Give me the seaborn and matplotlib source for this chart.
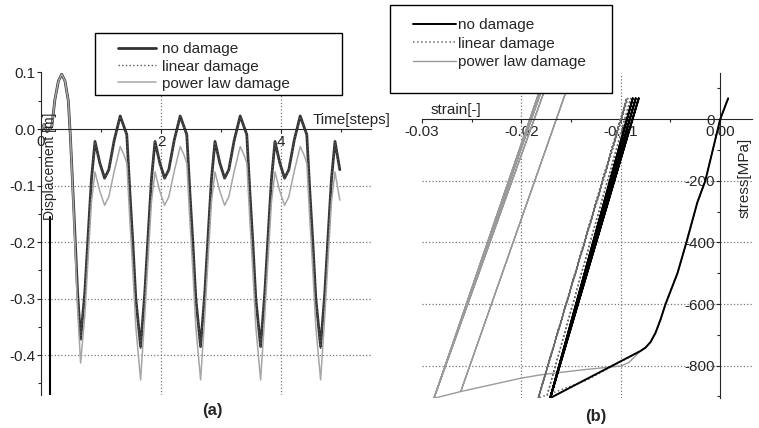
import matplotlib
matplotlib.use("Agg")
import seaborn as sns
from matplotlib import pyplot as plt
from matplotlib.patches import Rectangle
from matplotlib.ticker import MultipleLocator

series_labels = ["no damage", "linear damage", "power law damage"]

# (a) displacement over time, one row per cycle
time_steps = [
    0.00, 0.05, 0.10, 0.18, 0.23, 0.29, 0.345, 0.40, 0.455, 0.49, 0.55, 0.61,
    0.66, 0.73, 0.79, 0.84, 0.90, 0.98, 1.06, 1.13, 1.22, 1.32, 1.38, 1.43, 1.48, 1.53, 1.58,
    1.66, 1.73, 1.79, 1.84, 1.90, 1.98, 2.06, 2.13, 2.22, 2.32, 2.38, 2.43, 2.48, 2.53, 2.58,
    2.66, 2.73, 2.79, 2.84, 2.90, 2.98, 3.06, 3.13, 3.22, 3.32, 3.38, 3.43, 3.48, 3.53, 3.58,
    3.66, 3.73, 3.79, 3.84, 3.90, 3.98, 4.06, 4.13, 4.22, 4.32, 4.38, 4.43, 4.48, 4.53, 4.58,
    4.66, 4.73, 4.79, 4.84, 4.90, 4.98,
]
disp_no_damage = [
    -0.005, 0.008, -0.005, 0.004, 0.051, 0.085, 0.097, 0.085, 0.050, -0.014, -0.150, -0.290,
    -0.372, -0.29, -0.18, -0.09, -0.022, -0.06, -0.087, -0.072, -0.02, 0.023, 0.005, -0.01, -0.11, -0.20, -0.30,
    -0.385, -0.29, -0.18, -0.09, -0.022, -0.06, -0.087, -0.072, -0.02, 0.023, 0.005, -0.01, -0.11, -0.20, -0.30,
    -0.385, -0.29, -0.18, -0.09, -0.022, -0.06, -0.087, -0.072, -0.02, 0.023, 0.005, -0.01, -0.11, -0.20, -0.30,
    -0.385, -0.29, -0.18, -0.09, -0.022, -0.06, -0.087, -0.072, -0.02, 0.023, 0.005, -0.01, -0.11, -0.20, -0.30,
    -0.385, -0.29, -0.18, -0.09, -0.022, -0.072,
]
disp_linear = [
    -0.005, 0.008, -0.005, 0.004, 0.051, 0.085, 0.097, 0.085, 0.050, -0.014, -0.152, -0.292,
    -0.375, -0.29, -0.18, -0.09, -0.023, -0.061, -0.088, -0.073, -0.021, 0.022, 0.004, -0.011, -0.11, -0.20, -0.30,
    -0.388, -0.29, -0.18, -0.09, -0.023, -0.061, -0.088, -0.073, -0.021, 0.022, 0.004, -0.011, -0.11, -0.20, -0.30,
    -0.388, -0.29, -0.18, -0.09, -0.023, -0.061, -0.088, -0.073, -0.021, 0.022, 0.004, -0.011, -0.11, -0.20, -0.30,
    -0.388, -0.29, -0.18, -0.09, -0.023, -0.061, -0.088, -0.073, -0.021, 0.022, 0.004, -0.011, -0.11, -0.20, -0.30,
    -0.388, -0.29, -0.18, -0.09, -0.023, -0.073,
]
disp_power = [
    -0.005, 0.008, -0.005, 0.004, 0.051, 0.085, 0.097, 0.085, 0.050, -0.014, -0.160, -0.320,
    -0.414, -0.33, -0.22, -0.13, -0.076, -0.11, -0.135, -0.12, -0.075, -0.031, -0.045, -0.06, -0.16, -0.25, -0.35,
    -0.444, -0.33, -0.22, -0.13, -0.076, -0.11, -0.135, -0.12, -0.075, -0.031, -0.045, -0.06, -0.16, -0.25, -0.35,
    -0.444, -0.33, -0.22, -0.13, -0.076, -0.11, -0.135, -0.12, -0.075, -0.031, -0.045, -0.06, -0.16, -0.25, -0.35,
    -0.444, -0.33, -0.22, -0.13, -0.076, -0.11, -0.135, -0.12, -0.075, -0.031, -0.045, -0.06, -0.16, -0.25, -0.35,
    -0.444, -0.33, -0.22, -0.13, -0.076, -0.126,
]
time_ticks = [0, 2, 4]
disp_ticks = [0.1, 0.0, -0.1, -0.2, -0.3, -0.4]

# (b) stress-strain paths
strain_no_damage = [0.0008, 0.0, -0.0015, -0.0023, -0.0034, -0.0043, -0.0055, -0.0060, -0.0065, -0.0070,
                    -0.0075, -0.0080, -0.0171,
                    -0.0082, -0.0171, -0.0085, -0.0171, -0.0088, -0.0171]
stress_no_damage = [68, 0, -200, -270, -400, -500, -600, -650, -693, -723,
                    -741, -752, -905,
                    68, -905, 68, -905, 68, -905]
strain_linear = [0.0008, 0.0, -0.0015, -0.0023, -0.0034, -0.0043, -0.0055, -0.0060, -0.0065, -0.0070,
                 -0.0075, -0.0080, -0.0135, -0.0174,
                 -0.0090, -0.0174, -0.0183, -0.0094, -0.0183, -0.0093, -0.0183, -0.0094, -0.0183]
stress_linear = [68, 0, -200, -270, -400, -500, -600, -650, -693, -723,
                 -741, -752, -848, -895,
                 68, -895, -905, 68, -905, 68, -905, 68, -905]
strain_power = [0.0008, 0.0, -0.0015, -0.0023, -0.0034, -0.0043, -0.0055, -0.0060, -0.0065, -0.0070,
                -0.0075, -0.0080, -0.0092, -0.0100,
                -0.0140, -0.0181, -0.0201, -0.0261, -0.0154, -0.0261, -0.0288,
                -0.0176, -0.0288, -0.0179, -0.0288, -0.0181, -0.0288]
stress_power = [68, 0, -200, -270, -400, -500, -600, -650, -693, -723,
                -741, -752, -790, -801,
                -814, -830, -841, -884, 100, -884, -906,
                100, -906, 100, -906, 100, -906]
strain_ticks = [-0.03, -0.02, -0.01, 0.0]
strain_tick_labels = ["-0.03", "-0.02", "-0.01", "0.00"]
stress_ticks = [0, -200, -400, -600, -800]

sns.set_style("white")
plt.rcParams["font.family"] = ["Liberation Sans", "DejaVu Sans"]
plt.rcParams["axes.unicode_minus"] = False
plt.rcParams["font.size"] = 11

W, H = 759, 428
fig = plt.figure(figsize=(W / 100, H / 100), dpi=100)
ax_a = fig.add_axes([41 / W, 1 - 394.6 / H, 330 / W, 322.1 / H])
ax_b = fig.add_axes([422 / W, 1 - 398 / H, 330 / W, 324.9 / H])

grid_kw = dict(color="#777777", ls=":", lw=0.9, zorder=0)
FS = 11

# ---- panel (a)
a_styles = [("#333333", "-", 2.0), ("#555555", ":", 1.0), ("#a6a6a6", "-", 1.1)]
for ys, lab, (c, ls, lw) in zip([disp_no_damage, disp_linear, disp_power], series_labels, a_styles):
    sns.lineplot(x=time_steps, y=ys, ax=ax_a, sort=False, estimator=None,
                 color=c, linestyle=ls, lw=lw, label=lab, legend=False)

for v in disp_ticks:
    if v < 0:
        ax_a.axhline(v, **grid_kw)
for t in time_ticks:
    if t > 0:
        ax_a.axvline(t, **grid_kw)

ax_a.set_xlim(0, 5.5)
ax_a.set_ylim(-0.47, 0.1)
ax_a.axvline(0.15, ymin=0, ymax=(0.47 - 0.155) / 0.57, color="black", lw=1.5)
ax_a.spines[["top", "right"]].set_visible(False)
ax_a.spines["bottom"].set_position(("data", 0))
ax_a.spines["left"].set_position(("data", 0))
ax_a.set_xticks(time_ticks)
ax_a.xaxis.set_minor_locator(MultipleLocator(1))
ax_a.set_yticks(disp_ticks, [f"{v:.1f}" for v in disp_ticks])
ax_a.yaxis.set_minor_locator(MultipleLocator(0.05))
ax_a.tick_params(which="both", direction="out", length=3, width=0.8, pad=1, labelsize=FS,
                 bottom=True, left=True)
ax_a.tick_params(which="minor", length=2)
ax_a.set_xlabel("")
ax_a.set_ylabel("")
ax_a.text(4.53, 0.004, "Time[steps]", ha="left", va="bottom", fontsize=FS)
ax_a.text(0.15, -0.066, "Displacement [m]", rotation=90, ha="center", va="center", fontsize=10)

# ---- panel (b)
b_styles = [("#000000", "-", 1.4), ("#6a6a6a", ":", 1.1), ("#9a9a9a", "-", 1.0)]
b_data = [(strain_no_damage, stress_no_damage), (strain_linear, stress_linear), (strain_power, stress_power)]
b_lines = []
for (xs, ys), lab, (c, ls, lw), z in zip(b_data, series_labels, b_styles, [4, 3, 2]):
    sns.lineplot(x=xs, y=ys, ax=ax_b, sort=False, estimator=None,
                 color=c, linestyle=ls, lw=lw, label=lab, legend=False, zorder=z)
    b_lines.append(ax_b.get_lines()[-1])

for v in stress_ticks:
    if v < 0:
        ax_b.axhline(v, **grid_kw)
for s in strain_ticks:
    if strain_ticks[0] < s < 0:
        ax_b.axvline(s, **grid_kw)

ax_b.set_xlim(-0.03, 0.0032)
ax_b.set_ylim(-905, 150)
ax_b.spines[["top", "right"]].set_visible(False)
ax_b.spines["bottom"].set_position(("data", 0))
ax_b.spines["left"].set_position(("data", 0))
ax_b.set_xticks(strain_ticks, strain_tick_labels)
ax_b.xaxis.set_minor_locator(MultipleLocator(0.005))
ax_b.set_yticks(stress_ticks, [str(v) for v in stress_ticks])
ax_b.yaxis.set_minor_locator(MultipleLocator(100))
ax_b.tick_params(which="both", direction="out", length=3, width=0.8, pad=1, labelsize=FS,
                 bottom=True, left=True)
ax_b.tick_params(which="minor", length=2)
ax_b.set_xlabel("")
ax_b.set_ylabel("")
ax_b.text(-0.02915, 8, "strain[-]", ha="left", va="bottom", fontsize=FS)
ax_b.text(0.0025, -190, "stress[MPa]", rotation=90, ha="center", va="center", fontsize=FS)

# ---- legend boxes
fig.add_artist(Rectangle((95 / W, 1 - 95 / H), 247 / W, 62 / H, transform=fig.transFigure,
                         facecolor="white", edgecolor="black", lw=1.0, zorder=3))
fig.add_artist(Rectangle((390 / W, 1 - 93 / H), 222 / W, 88 / H, transform=fig.transFigure,
                         facecolor="white", edgecolor="black", lw=1.0, zorder=3))

fig.legend(ax_a.get_lines()[:3], series_labels, loc="upper left", bbox_to_anchor=(118 / W, 1 - 42.5 / H),
           frameon=False, borderpad=0, borderaxespad=0, handlelength=2.5, handletextpad=0.35,
           labelspacing=0.2, fontsize=FS)
fig.legend(b_lines, series_labels, loc="upper left", bbox_to_anchor=(413 / W, 1 - 18 / H),
           frameon=False, borderpad=0, borderaxespad=0, handlelength=2.8, handletextpad=0.15,
           labelspacing=0.3, fontsize=FS)

fig.text(212 / W, 1 - 410 / H, "(a)", ha="center", va="center", fontsize=12, fontweight="bold")
fig.text(596 / W, 1 - 416 / H, "(b)", ha="center", va="center", fontsize=12, fontweight="bold")

fig.savefig("out.png", dpi=100)
